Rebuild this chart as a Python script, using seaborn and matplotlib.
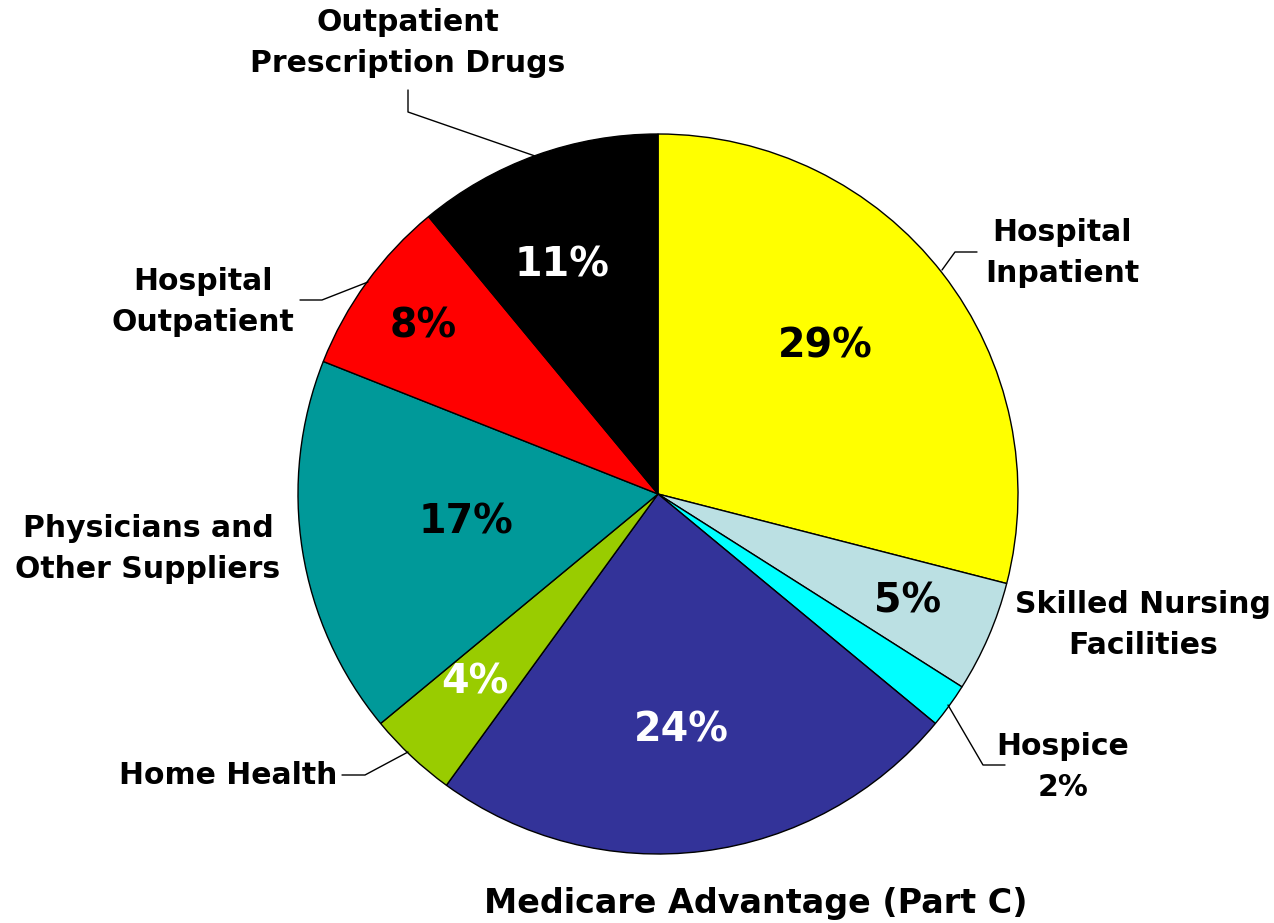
import numpy as np
import matplotlib
matplotlib.use("Agg")
import matplotlib.pyplot as plt
import seaborn as sns

# data (clockwise from 12 o'clock)
categories = ["Hospital\nInpatient", "Skilled Nursing\nFacilities", "Hospice",
              "Medicare Advantage (Part C)", "Home Health",
              "Physicians and\nOther Suppliers", "Hospital\nOutpatient",
              "Outpatient\nPrescription Drugs"]
shares = [29, 5, 2, 24, 4, 17, 8, 11]
colors = ["#FFFF00", "#BBE0E3", "#00FFFF", "#333399", "#99CC00",
          "#009999", "#FF0000", "#000000"]
pct_colors = ["black", "black", "black", "white", "white", "black", "black", "white"]
# label placement inside wedges: radial fraction and small angle nudge (deg)
pct_dist = [0.62, 0.755, None, 0.66, 0.73, 0.54, 0.80, 0.69]
pct_nudge = [3.5, 0, 0, -1.5, -1, -0.5, 0.5, 3]

sns.set_style("white")
plt.rcParams['font.family'] = ['DejaVu Sans']
plt.rcParams['text.color'] = 'black'

W, H = 1274, 923
fig = plt.figure(figsize=(W / 100, H / 100), dpi=100)
ax = fig.add_axes([0, 0, 1, 1])

cx, cy, R = 658, H - 494, 360
wedges, _ = ax.pie(shares, colors=colors, startangle=90, counterclock=False,
                   center=(cx, cy), radius=R,
                   wedgeprops=dict(edgecolor="black", linewidth=1))
ax.set_xlim(0, W)
ax.set_ylim(0, H)
ax.set_aspect("equal")
ax.axis("off")

# percentage labels inside the wedges
for w, s, c, d, n in zip(wedges, shares, pct_colors, pct_dist, pct_nudge):
    if d is None:
        continue
    ang = np.deg2rad((w.theta1 + w.theta2) / 2 + n)
    ax.text(cx + d * R * np.cos(ang), cy + d * R * np.sin(ang), f"{s}%",
            ha="center", va="center", fontsize=28.5, fontweight="bold", color=c)

# outside category labels (pixel coords, y from top)
def label(txt, x, y, ha="center", fs=21.5):
    ax.text(x, H - y, txt, ha=ha, va="center", fontsize=fs,
            fontweight="bold", linespacing=1.55, color="black")

def leader(pts):
    xs = [p[0] for p in pts]
    ys = [H - p[1] for p in pts]
    ax.plot(xs, ys, color="black", lw=1)

label(categories[0], 1062, 253)
label(categories[1], 1143, 625)
label(f"{categories[2]}\n{shares[2]}%", 1063, 767)
label(categories[3], 756, 904, fs=24)
label(categories[4], 337, 776, ha="right")
label(categories[5], 148, 549)
label(categories[6], 203, 302)
label(categories[7], 408, 43)

leader([(942, 270), (955, 252), (977, 252)])
leader([(948, 705), (983, 765), (1005, 765)])
leader([(408, 752), (365, 775), (342, 775)])
leader([(368, 282), (322, 300), (300, 300)])
leader([(535, 156), (408, 112), (408, 90)])

fig.savefig("out.png", dpi=100)
